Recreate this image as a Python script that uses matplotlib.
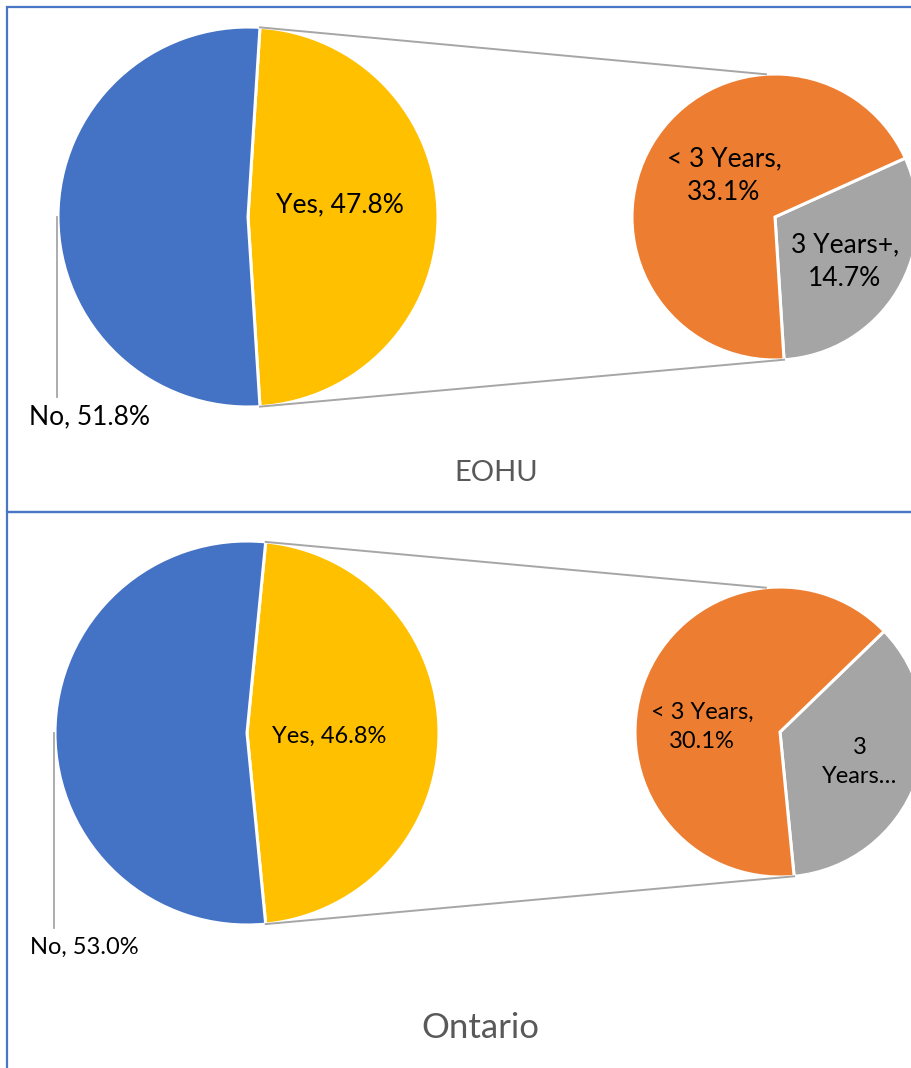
import numpy as np
import matplotlib.pyplot as plt
from matplotlib.patches import Rectangle

# data
regions = ["EOHU", "Ontario"]
main_labels = ["Yes", "No"]
yes_vals = [47.8, 46.8]
no_vals = [51.8, 53.0]
sub_labels = ["3 Years+", "< 3 Years"]
sub_lt3 = [33.1, 30.1]
sub_ge3 = [14.7, 16.7]

W, H = 912, 1068
BLUE, YELLOW, ORANGE, GRAY = "#4472C4", "#FFC000", "#ED7D31", "#A5A5A5"
LINE = "#A6A6A6"
FONT = "Lato"

fig = plt.figure(figsize=(W / 100, H / 100), dpi=100)
ax = fig.add_axes([0, 0, 1, 1])

def Y(y):
    # pixel row (from top) -> data y
    return H - y

# panel layout (pixels from top-left)
panels = [
    dict(main_c=(248, 217), main_r=190, sub_c=(775, 217), sub_r=143,
         yes_xy=(340, 205), no_xy=(90, 417), lead_x=57, lead_end=397,
         lt3_xy=(724, 176), ge3_xy=(845, 262), title_xy=(496, 473),
         fs=19, title_fs=21, box=(7, 7, 1000, 505), ls=1.45,
         ge3_text="3 Years+,\n{:.1f}%"),
    dict(main_c=(247, 733), main_r=192, sub_c=(780, 732), sub_r=145,
         yes_xy=(329, 736), no_xy=(84, 947), lead_x=54, lead_end=928,
         lt3_xy=(702, 727), ge3_xy=(860, 762), title_xy=(480, 1028),
         fs=17, title_fs=25, box=(7, 512, 1000, 700), ls=1.5,
         ge3_text="3\nYears\u2026"),
]

for i, p in enumerate(panels):
    x0, y0, bw, bh = p["box"]
    ax.add_patch(Rectangle((x0, Y(y0 + bh)), bw, bh, fill=False,
                           edgecolor="#4A76C6", linewidth=1.6, zorder=0))

    yes, no = yes_vals[i], no_vals[i]
    half = 180 * yes / (yes + no)
    mc = (p["main_c"][0], Y(p["main_c"][1]))
    ax.pie([yes, no], colors=[YELLOW, BLUE], startangle=-half,
           center=mc, radius=p["main_r"], frame=True,
           wedgeprops=dict(edgecolor="white", linewidth=2.2))

    sc = (p["sub_c"][0], Y(p["sub_c"][1]))
    ax.pie([sub_ge3[i], sub_lt3[i]], colors=[GRAY, ORANGE], startangle=-half,
           center=sc, radius=p["sub_r"], frame=True,
           wedgeprops=dict(edgecolor="white", linewidth=2.2))

    # connector lines between main "Yes" wedge and secondary pie
    for a_main, a_sub in [(half, 180 - half), (-half, -half)]:
        am, asub = np.radians(a_main), np.radians(a_sub)
        ax.plot([mc[0] + p["main_r"] * np.cos(am), sc[0] + p["sub_r"] * np.cos(asub)],
                [mc[1] + p["main_r"] * np.sin(am), sc[1] + p["sub_r"] * np.sin(asub)],
                color=LINE, linewidth=1.4, zorder=1)

    # leader line for "No" label
    ax.plot([p["lead_x"], p["lead_x"]], [mc[1], Y(p["lead_end"])],
            color=LINE, linewidth=1.3)

    fs = p["fs"]
    ax.text(p["yes_xy"][0], Y(p["yes_xy"][1]), f"{main_labels[0]}, {yes:.1f}%",
            ha="center", va="center", fontsize=fs, family=FONT)
    ax.text(p["no_xy"][0], Y(p["no_xy"][1]), f"{main_labels[1]}, {no:.1f}%",
            ha="center", va="center", fontsize=fs, family=FONT)
    ax.text(p["lt3_xy"][0], Y(p["lt3_xy"][1]), f"{sub_labels[1]},\n{sub_lt3[i]:.1f}%",
            ha="center", va="center", fontsize=fs, family=FONT, linespacing=p["ls"],
            multialignment="center")
    ax.text(p["ge3_xy"][0], Y(p["ge3_xy"][1]), p["ge3_text"].format(sub_ge3[i]),
            ha="center", va="center", fontsize=fs, family=FONT, linespacing=p["ls"],
            multialignment="center")
    ax.text(p["title_xy"][0], Y(p["title_xy"][1]), regions[i],
            ha="center", va="center", fontsize=p["title_fs"], family=FONT,
            color="#595959")

ax.set_xlim(0, W)
ax.set_ylim(0, H)
ax.set_aspect("auto")
ax.axis("off")

fig.savefig("out.png", dpi=100)
